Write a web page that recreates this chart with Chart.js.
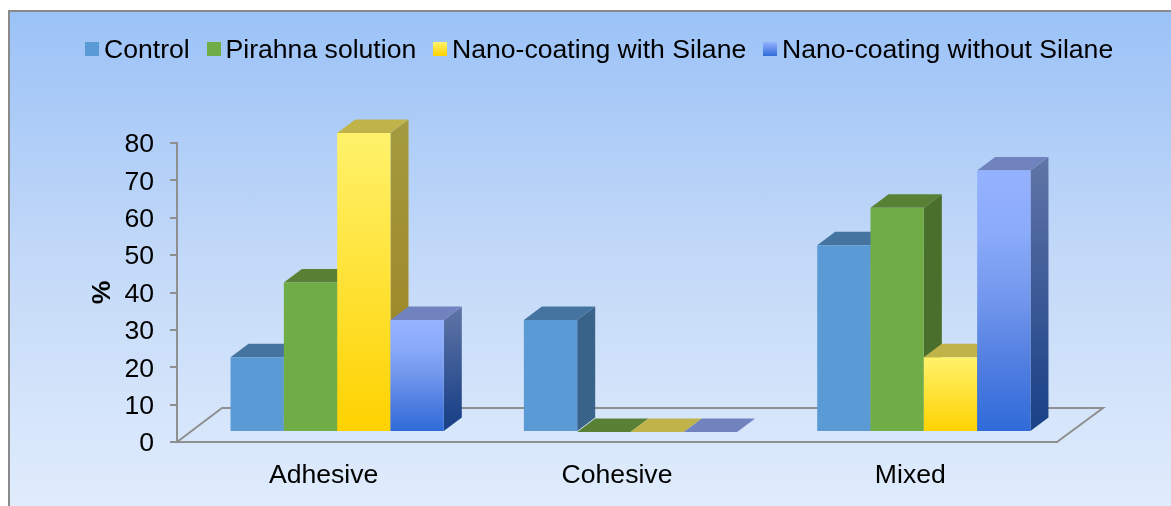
<!DOCTYPE html>
<html>
<head>
<meta charset="utf-8">
<script src="https://cdn.jsdelivr.net/npm/chart.js@4/dist/chart.umd.min.js"></script>
<style>
  html, body { margin: 0; padding: 0; background: #fff; }
  #wrap { position: relative; width: 1171px; height: 506px; overflow: hidden; }
  #card {
    position: absolute; left: 8px; top: 10px; right: 0; bottom: 0;
    border-top: 2px solid #8a8a8a; border-left: 2px solid #8a8a8a;
    background: linear-gradient(to bottom, #9bc2f7 0%, #c3d9f8 50%, #e0ecfc 100%);
  }
  canvas { position: absolute; left: 0; top: 0; }
  #legend {
    position: absolute; left: 85px; top: 34px; display: flex; white-space: nowrap;
    font: 26.6px "Liberation Sans", Arial, sans-serif; color: #000; line-height: 30px;
  }
  #legend .item { display: flex; align-items: center; margin-right: 16.8px; }
  #legend .box { width: 14px; height: 14px; margin-right: 5px; }
</style>
</head>
<body>
<div id="wrap">
  <div id="card"></div>
  <canvas id="chart" width="1171" height="506"></canvas>
  <div id="legend"></div>
</div>
<script>
const categories = ['Adhesive', 'Cohesive', 'Mixed'];
const seriesNames = ['Control', 'Pirahna solution', 'Nano-coating with Silane', 'Nano-coating without Silane'];
const control = [20, 30, 50];
const pirahna = [40, 0, 60];
const nanoSilane = [80, 0, 20];
const nanoNoSilane = [30, 0, 70];

const axisColor = '#8f8f8f';
const fontName = '"Liberation Sans", Arial, sans-serif';

// front, top face, side face (gradient stops where a colour is a list)
const looks = [
  { front: ['#5b9bd5'], top: '#44749f', side: ['#396388'] },
  { front: ['#70ad47'], top: '#588135', side: ['#4a6f2c'] },
  { front: ['#fff26b', '#ffd200'], top: '#bfb34a', side: ['#a39a3f', '#9d8120'] },
  { front: ['#95b2ff', '#8aaafa', '#7196ec', '#4f7de0', '#2f6bd9'], top: '#7083bf', side: ['#6075a6', '#1c4288'] }
];

// the bars sit on a floor that is set back from the axes
const shiftX = 13.5, shiftY = -10;
const depthX = 18, depthY = -13.5;

function fade(ctx, stops, y0, y1) {
  if (stops.length === 1 || !Number.isFinite(y0) || !Number.isFinite(y1)) return stops[0];
  const g = ctx.createLinearGradient(0, y0, 0, y1);
  stops.forEach((c, i) => g.addColorStop(i / (stops.length - 1), c));
  return g;
}

function face(ctx, pts, fill) {
  ctx.beginPath();
  pts.forEach((p, i) => i ? ctx.lineTo(p[0], p[1]) : ctx.moveTo(p[0], p[1]));
  ctx.closePath();
  ctx.fillStyle = fill;
  ctx.fill();
}

const box3d = {
  id: 'box3d',
  beforeDatasetsDraw(chart) {
    const { ctx, chartArea: a } = chart;
    // floor
    ctx.save();
    ctx.strokeStyle = axisColor;
    ctx.lineWidth = 2;
    ctx.beginPath();
    ctx.moveTo(a.left, a.bottom);
    ctx.lineTo(a.left + 45, a.bottom - 34);
    ctx.lineTo(a.right + 46, a.bottom - 34);
    ctx.lineTo(a.right, a.bottom);
    ctx.stroke();
    ctx.translate(shiftX, shiftY);
    chart.data.datasets.forEach((ds, i) => {
      chart.getDatasetMeta(i).data.forEach(bar => {
        const l = bar.x - bar.width / 2, r = bar.x + bar.width / 2;
        const t = bar.y, b = bar.base;
        face(ctx, [[r, t], [r + depthX, t + depthY], [r + depthX, b + depthY], [r, b]],
          fade(ctx, looks[i].side, t + depthY, b + depthY));
        face(ctx, [[l, t], [l + depthX, t + depthY], [r + depthX, t + depthY], [r, t]], looks[i].top);
        bar.draw(ctx);
      });
    });
    ctx.restore();
    return false; // bars are drawn above, left to right
  }
};

const chart = new Chart(document.getElementById('chart').getContext('2d'), {
  type: 'bar',
  data: {
    labels: categories,
    datasets: [control, pirahna, nanoSilane, nanoNoSilane].map((values, i) => ({
      label: seriesNames[i],
      data: values,
      categoryPercentage: 0.727,
      barPercentage: 1,
      borderWidth: 0,
      backgroundColor: c => {
        if (!c.parsed) return looks[i].front[0];
        const y = c.chart.scales.y;
        return fade(c.chart.ctx, looks[i].front, y.getPixelForValue(c.parsed.y), y.getPixelForValue(0));
      }
    }))
  },
  plugins: [box3d],
  options: {
    responsive: false,
    animation: false,
    layout: { padding: { left: 87, right: 114, top: 143, bottom: 0 } },
    plugins: { legend: { display: false }, tooltip: { enabled: false } },
    scales: {
      x: {
        afterFit: s => { s.height = 64; },
        grid: { display: false },
        border: { color: axisColor, width: 2 },
        ticks: { color: '#000', padding: 10, font: { family: fontName, size: 26.6 } }
      },
      y: {
        min: 0,
        max: 80,
        afterFit: s => { s.width = 90; },
        title: { display: true, text: '%', color: '#000', padding: 0, font: { family: fontName, size: 26.6, weight: 'bold' } },
        grid: { drawOnChartArea: false, color: axisColor, lineWidth: 2, tickLength: 7 },
        border: { color: axisColor, width: 2 },
        ticks: { stepSize: 10, color: '#000', padding: 16, labelOffset: 2, font: { family: fontName, size: 26.6 } }
      }
    }
  }
});

// legend with a tight swatch-to-text gap
document.getElementById('legend').innerHTML = seriesNames.map((name, i) => {
  const f = looks[i].front;
  const bg = f.length > 1 ? `linear-gradient(${f[0]}, ${f[f.length - 1]})` : f[0];
  return `<span class="item"><span class="box" style="background:${bg}"></span>${name}</span>`;
}).join('');
</script>
</body>
</html>
